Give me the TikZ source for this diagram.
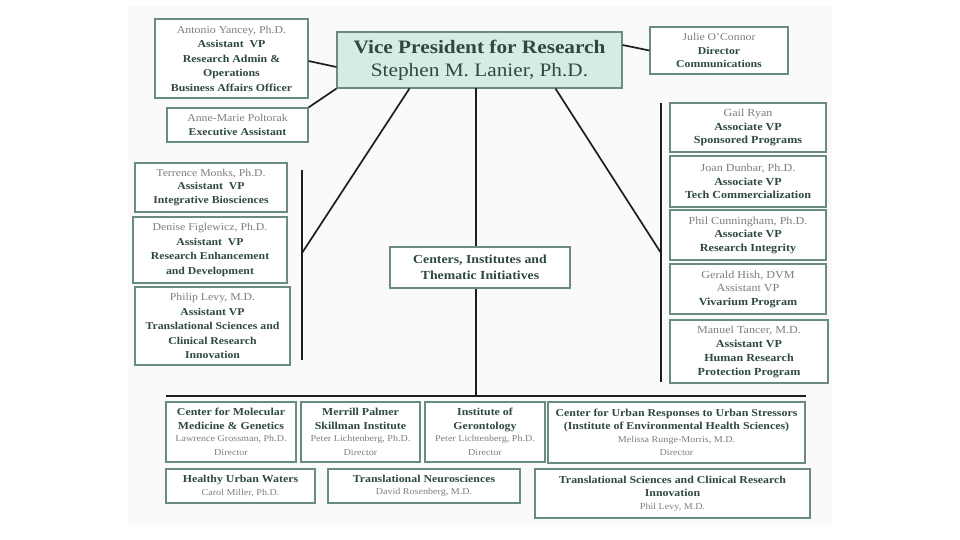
\documentclass[tikz,border=0pt]{standalone}
\usepackage{fontspec}
\setmainfont[FakeStretch=1.12]{Liberation Serif}
\usetikzlibrary{calc}
\definecolor{bordc}{HTML}{6A8A84}
\definecolor{boldc}{HTML}{2E4843}
\definecolor{namec}{HTML}{7E7E7E}
\definecolor{vpfill}{HTML}{D5ECE4}
\definecolor{linec}{HTML}{1E1E1E}
\definecolor{bgc}{HTML}{FAFAFA}
\newcommand{\nm}[1]{{\color{namec}\mdseries #1}}
\newcommand{\bt}[1]{{\color{boldc}\bfseries #1}}
\newcommand{\bfs}{\fontsize{10.6}{13.5}\selectfont}
\newcommand{\sms}{\fontsize{9}{11.5}\selectfont}
\begin{document}
\begin{tikzpicture}[x=1pt,y=-1pt,
  bx/.style={draw=bordc,line width=1.1pt,fill=white,inner sep=0pt,align=center,
    font=\fontsize{10.5}{13.5}\selectfont},
  rbx/.style={bx,font=\fontsize{10.8}{13.5}\selectfont},
  conn/.style={draw=linec,line width=1.7pt}]
\useasboundingbox (0,0) rectangle (960,540);
\fill[white] (0,0) rectangle (960,540);
\fill[bgc] (128,6) rectangle (832,527);

% top
\node[bx,fill=vpfill,minimum width=285pt,minimum height=56pt,
  font=\fontsize{19}{23}\selectfont] (vp) at (479.5,60)
  {\bt{Vice President for Research}\\{\color{boldc}Stephen M. Lanier, Ph.D.}};
\node[bx,minimum width=153pt,minimum height=79pt,font=\fontsize{10.6}{14.5}\selectfont] (ant) at (231.5,58.5)
  {\nm{Antonio Yancey, Ph.D.}\\\bt{Assistant\ \ VP}\\\bt{Research Admin \&}\\\bt{Operations}\\\bt{Business Affairs Officer}};
\node[bx,minimum width=141pt,minimum height=34pt] (anne) at (237.5,125)
  {\nm{Anne-Marie Poltorak}\\\bt{Executive Assistant}};
\node[bx,minimum width=138pt,minimum height=47pt] (julie) at (719,50.5)
  {\nm{Julie O’Connor}\\\bt{Director}\\\bt{Communications}};

% left column
\node[bx,minimum width=152pt,minimum height=49pt] (terr) at (211,187.5)
  {\nm{Terrence Monks, Ph.D.}\\\bt{Assistant\ \ VP}\\\bt{Integrative Biosciences}};
\node[bx,minimum width=154pt,minimum height=66pt,font=\fontsize{10.5}{14.5}\selectfont] (den) at (210,250)
  {\nm{Denise Figlewicz, Ph.D.}\\\bt{Assistant\ \ VP}\\\bt{Research Enhancement}\\\bt{and Development}};
\node[bx,minimum width=155pt,minimum height=78pt,font=\fontsize{10.5}{14.5}\selectfont] (phl) at (212.5,326)
  {\nm{Philip Levy, M.D.}\\\bt{Assistant VP}\\\bt{Translational Sciences and}\\\bt{Clinical Research}\\\bt{Innovation}};

% center
\node[bx,minimum width=180pt,minimum height=41pt,font=\fontsize{12.3}{15.5}\selectfont] (cent) at (480,267.5)
  {\bt{Centers, Institutes and}\\\bt{Thematic Initiatives}};

% right column
\node[rbx,minimum width=156pt,minimum height=49pt] (gail) at (748,127.5)
  {\nm{Gail Ryan}\\\bt{Associate VP}\\\bt{Sponsored Programs}};
\node[rbx,minimum width=156pt,minimum height=51pt] (joan) at (748,181.5)
  {\nm{Joan Dunbar, Ph.D.}\\\bt{Associate VP}\\\bt{Tech Commercialization}};
\node[rbx,minimum width=156pt,minimum height=50pt] (phc) at (748,235)
  {\nm{Phil Cunningham, Ph.D.}\\\bt{Associate VP}\\\bt{Research Integrity}};
\node[rbx,minimum width=156pt,minimum height=50pt] (ger) at (748,289)
  {\nm{Gerald Hish, DVM}\\\nm{Assistant VP}\\\bt{Vivarium Program}};
\node[rbx,minimum width=158pt,minimum height=63pt,font=\fontsize{10.8}{14}\selectfont] (man) at (749,351.5)
  {\nm{Manuel Tancer, M.D.}\\\bt{Assistant VP}\\\bt{Human Research}\\\bt{Protection Program}};

% bottom row 1
\node[bx,minimum width=130pt,minimum height=60pt] (cmm) at (231,432)
  {\bt{\bfs Center for Molecular}\\\bt{\bfs Medicine \& Genetics}\\[-1pt]
   {\sms\nm{Lawrence Grossman, Ph.D.}}\\{\sms\nm{Director}}};
\node[bx,minimum width=119pt,minimum height=60pt] (mps) at (360.5,432)
  {\bt{\bfs Merrill Palmer}\\\bt{\bfs Skillman Institute}\\[-1pt]
   {\sms\nm{Peter Lichtenberg, Ph.D.}}\\{\sms\nm{Director}}};
\node[bx,minimum width=120pt,minimum height=60pt] (iog) at (485,432)
  {\bt{\bfs Institute of}\\\bt{\bfs Gerontology}\\[-1pt]
   {\sms\nm{Peter Lichtenberg, Ph.D.}}\\{\sms\nm{Director}}};
\node[bx,minimum width=257pt,minimum height=61pt] (cur) at (676.5,432.5)
  {\bt{\bfs Center for Urban Responses to Urban Stressors}\\\bt{\bfs (Institute of Environmental Health Sciences)}\\[-1pt]
   {\sms\nm{Melissa Runge-Morris, M.D.}}\\{\sms\nm{Director}}};

% bottom row 2
\node[bx,minimum width=149pt,minimum height=34pt] (huw) at (240.5,486)
  {\bt{\bfs Healthy Urban Waters}\\[-1pt]{\sms\nm{Carol Miller, Ph.D.}}};
\node[bx,minimum width=192pt,minimum height=34pt] (tn) at (424,486)
  {\bt{\bfs Translational Neurosciences}\\[-1pt]{\sms\nm{David Rosenberg, M.D.}}};
\node[bx,minimum width=275pt,minimum height=49pt] (ts) at (672.5,493.5)
  {\bt{\bfs Translational Sciences and Clinical Research}\\\bt{\bfs Innovation}\\[-1pt]{\sms\nm{Phil Levy, M.D.}}};

% connector coordinates
\coordinate (lt) at (302,170);
\coordinate (lb) at (302,360);
\coordinate (lj) at (302,253);
\coordinate (rt) at (661,103);
\coordinate (rb) at (661,382);
\coordinate (rj) at (661,253);
\coordinate (hl) at (166,396);
\coordinate (hr) at (806,396);
\coordinate (vc) at (476,88);
\coordinate (hc) at (vc |- hl);

\draw[conn] ([yshift=-2.5pt]ant.east) -- ([yshift=-7pt]vp.west);
\draw[conn] (anne.north east) -- (vp.south west);
\draw[conn] ([yshift=15pt]vp.east) -- (julie.west);
\draw[conn] ($(vp.south west)+(73,0)$) -- (lj);
\draw[conn] ($(vp.south west)+(219,0)$) -- (rj);
\draw[conn] (vc) -- (vc |- cent.north);
\draw[conn] (vc |- cent.south) -- (hc);
\draw[conn] (lt) -- (lb);
\draw[conn] (rt) -- (rb);
\draw[conn,line width=2.4pt] (hl) -- (hr);
\end{tikzpicture}
\end{document}
